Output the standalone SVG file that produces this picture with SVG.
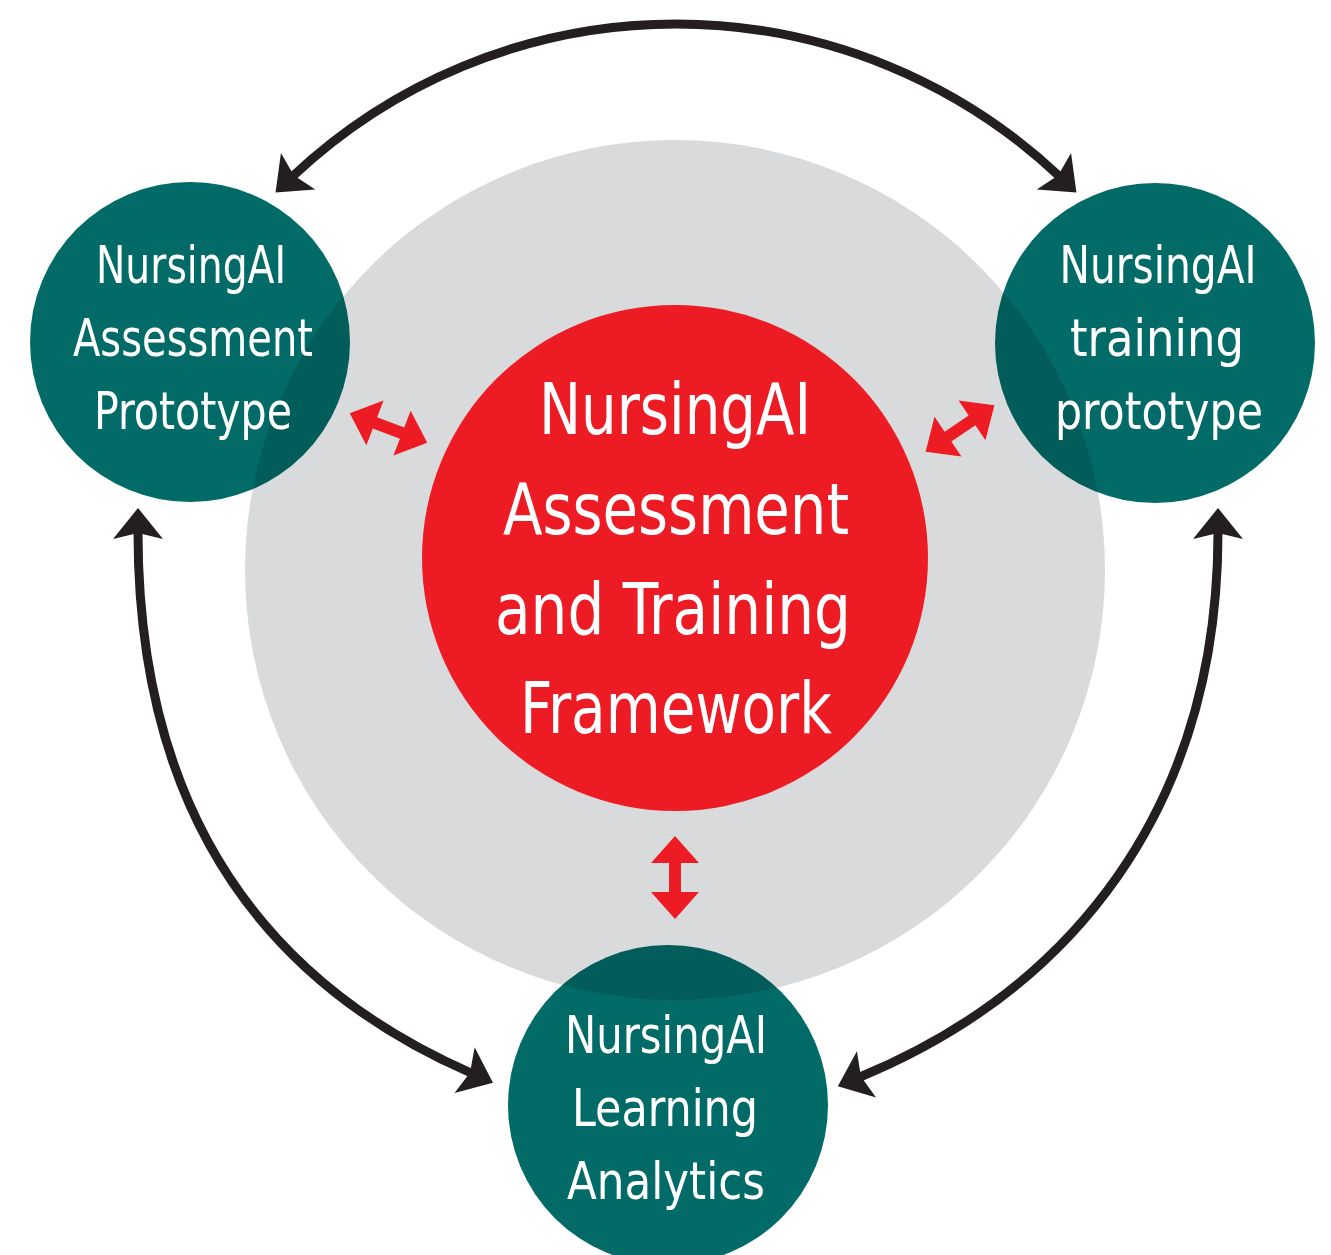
<svg xmlns="http://www.w3.org/2000/svg" width="1331" height="1255" viewBox="0 0 1331 1255">
  <style>
    .ring { fill: #d9dadb; }
    .core { fill: #ed1c24; }
    .node { fill: #026b68; mix-blend-mode: multiply; }
    .label { fill: #ffffff; font-family: "DejaVu Sans Condensed", "Liberation Sans Narrow", "DejaVu Sans", sans-serif; text-anchor: middle; }
    .small { font-size: 51px; }
    .big { font-size: 71px; }
    .link { fill: none; stroke: #231f20; stroke-width: 9; marker-start: url(#head); marker-end: url(#head); }
    .swap { fill: #ed1c24; }
  </style>
  <defs>
    <marker id="head" viewBox="-10 -28 36 56" markerWidth="36" markerHeight="56" refX="0" refY="0" markerUnits="userSpaceOnUse" orient="auto-start-reverse">
      <path d="M24,0 L-7,-25 L-1,0 L-7,25 Z" fill="#231f20"/>
    </marker>
    <path id="dbl" d="M-41.5,0 L-14.5,-24 L-14.5,-6 L14.5,-6 L14.5,-24 L41.5,0 L14.5,24 L14.5,6 L-14.5,6 L-14.5,24 Z"/>
  </defs>

  <rect width="1331" height="1255" fill="#ffffff"/>

  <g id="ring">
    <circle class="ring" cx="675" cy="570" r="430"/>
  </g>

  <g id="framework">
    <circle class="core" cx="675" cy="558" r="253"/>
    <text class="label big" x="675" y="434" textLength="272" lengthAdjust="spacingAndGlyphs">NursingAI</text>
    <text class="label big" x="676" y="534" textLength="346" lengthAdjust="spacingAndGlyphs">Assessment</text>
    <text class="label big" x="673" y="634" textLength="356" lengthAdjust="spacingAndGlyphs">and Training</text>
    <text class="label big" x="676" y="733" textLength="312" lengthAdjust="spacingAndGlyphs">Framework</text>
  </g>

  <g id="assessment-prototype">
    <circle class="node" cx="190" cy="342" r="160"/>
    <text class="label small" x="191" y="283" textLength="190" lengthAdjust="spacingAndGlyphs">NursingAI</text>
    <text class="label small" x="193" y="356" textLength="240" lengthAdjust="spacingAndGlyphs">Assessment</text>
    <text class="label small" x="193" y="429" textLength="198" lengthAdjust="spacingAndGlyphs">Prototype</text>
  </g>

  <g id="training-prototype">
    <circle class="node" cx="1155" cy="343" r="160"/>
    <text class="label small" x="1158" y="283" textLength="197" lengthAdjust="spacingAndGlyphs">NursingAI</text>
    <text class="label small" x="1157" y="356" textLength="174" lengthAdjust="spacingAndGlyphs">training</text>
    <text class="label small" x="1159" y="429" textLength="208" lengthAdjust="spacingAndGlyphs">prototype</text>
  </g>

  <g id="learning-analytics">
    <circle class="node" cx="668" cy="1105" r="160"/>
    <text class="label small" x="666" y="1053" textLength="202" lengthAdjust="spacingAndGlyphs">NursingAI</text>
    <text class="label small" x="665" y="1126" textLength="186" lengthAdjust="spacingAndGlyphs">Learning</text>
    <text class="label small" x="666" y="1199" textLength="198" lengthAdjust="spacingAndGlyphs">Analytics</text>
  </g>

  <g id="connectors">
    <path class="link" d="M293,176 A558.5,558.5 0 0 1 1059,176"/>
    <path class="link" d="M138,532 C138,820 270,985 471,1073"/>
    <path class="link" d="M1218,532 C1218,810 1070,990 860,1077"/>
    <use href="#dbl" class="swap" transform="translate(388.5,428) rotate(21)"/>
    <use href="#dbl" class="swap" transform="translate(960,428.5) rotate(-34)"/>
    <use href="#dbl" class="swap" transform="translate(675,877.5) rotate(90)"/>
  </g>
</svg>
